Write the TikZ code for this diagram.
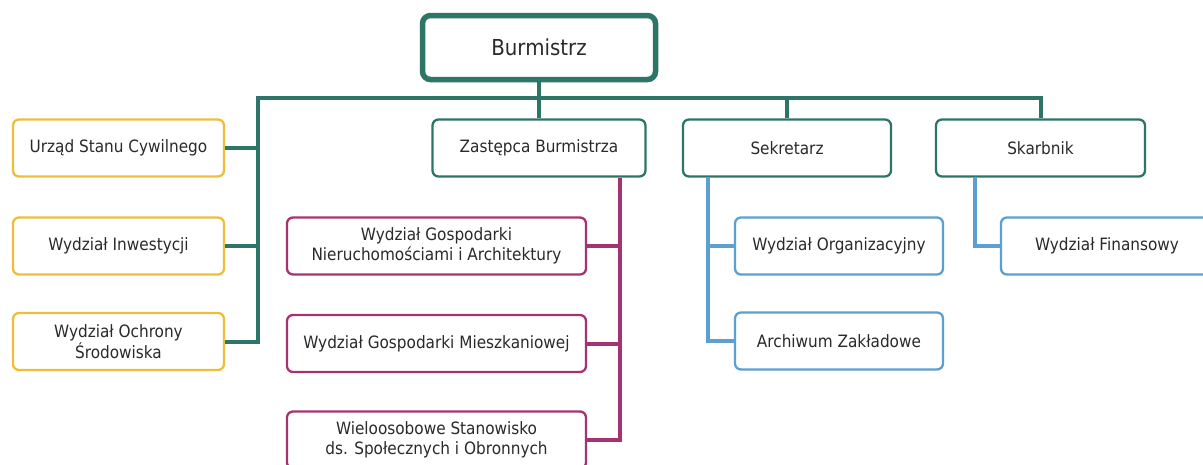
\documentclass[tikz,border=0pt]{standalone}
\usepackage{fontspec}
\setmainfont{DejaVu Sans Condensed}
\definecolor{tealc}{HTML}{2D7566}
\definecolor{magc}{HTML}{A5336F}
\definecolor{bluec}{HTML}{5B9FD3}
\definecolor{yelc}{HTML}{EDBE3C}
\definecolor{txtc}{HTML}{2A2A2A}
\tikzset{
  box/.style={draw, line width=2.3pt, rounded corners=6pt, fill=white, inner sep=0pt,
    minimum height=57pt, align=center, text=txtc,
    font=\fontsize{17}{20.5}\selectfont},
  tealbox/.style={box, draw=tealc},
  yelbox/.style={box, draw=yelc, minimum width=211pt},
  magbox/.style={box, draw=magc, minimum width=299pt},
  bluebox/.style={box, draw=bluec, minimum width=208pt},
  tline/.style={draw=tealc, line width=4pt},
  mline/.style={draw=magc, line width=4pt},
  bline/.style={draw=bluec, line width=4pt},
}
\begin{document}
\begin{tikzpicture}[x=1pt,y=-1pt]
\useasboundingbox (0,0) rectangle (1203,464);
\fill[white] (0,0) rectangle (1203,464);
\coordinate (bl) at (258,98);
\coordinate (mv) at (620,0);
\coordinate (bv) at (708,0);
\coordinate (fv) at (975,0);
\path (539,47.5) node[tealbox, line width=5.5pt, rounded corners=8pt, minimum width=233pt, minimum height=64pt, font=\fontsize{22}{24}\selectfont] (burm) {Burmistrz};
\path (118.5,148) node[yelbox] (urz) {Urząd Stanu Cywilnego};
\path (118.5,246) node[yelbox] (inw) {Wydział Inwestycji};
\path (118.5,341.5) node[yelbox] (och) {Wydział Ochrony\\Środowiska};
\path (539,148) node[tealbox, minimum width=213pt] (zast) {Zastępca Burmistrza};
\path (436.5,246) node[magbox] (gn) {Wydział Gospodarki\\Nieruchomościami i Architektury};
\path (436.5,343.5) node[magbox] (gm) {Wydział Gospodarki Mieszkaniowej};
\path (436.5,440) node[magbox] (wiel) {Wieloosobowe Stanowisko\\ds. Społecznych i Obronnych};
\path (787,148) node[tealbox, minimum width=208pt] (sekr) {Sekretarz};
\path (1040.5,148) node[tealbox, minimum width=209pt] (skarb) {Skarbnik};
\path (839,246) node[bluebox] (org) {Wydział Organizacyjny};
\path (839,341) node[bluebox] (arch) {Archiwum Zakładowe};
\path (1107,246) node[bluebox, minimum width=212pt] (fin) {Wydział Finansowy};
% teal tree
\draw[tline] (och.east) -| (bl) -| (skarb.north);
\draw[tline] (burm.south) -- (zast.north);
\draw[tline] (sekr.north) -- (sekr.north |- bl);
\draw[tline] (urz.east) -- (urz.east -| bl);
\draw[tline] (inw.east) -- (inw.east -| bl);
% magenta
\draw[mline] (zast.south -| mv) |- (wiel.east);
\draw[mline] (gn.east) -- (gn.east -| mv);
\draw[mline] (gm.east) -- (gm.east -| mv);
% blue
\draw[bline] (sekr.south -| bv) |- (arch.west);
\draw[bline] (org.west) -- (org.west -| bv);
\draw[bline] (skarb.south -| fv) |- (fin.west);
\end{tikzpicture}
\end{document}
